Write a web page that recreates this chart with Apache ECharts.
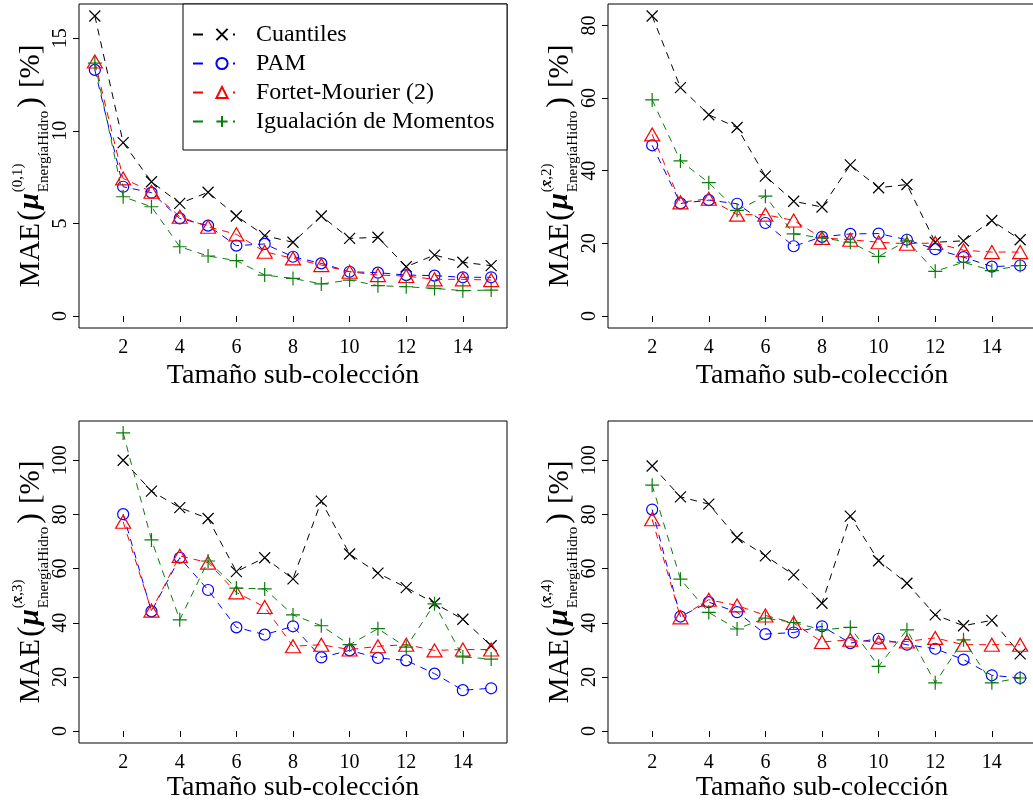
<!DOCTYPE html>
<html>
<head>
<meta charset="utf-8">
<title>MAE vs tamaño de sub-colección</title>
<script src="https://cdn.jsdelivr.net/npm/echarts@6.0.0/dist/echarts.min.js"></script>
<style>
  html, body { margin: 0; padding: 0; background: #fff; }
  #chart { width: 1033px; height: 806px; }
</style>
</head>
<body>
<div id="chart"></div>
<script>
// tamaños de sub-colección (eje x)
const sizesAll = [1, 2, 3, 4, 5, 6, 7, 8, 9, 10, 11, 12, 13, 14, 15]
const sizesFrom2 = [2, 3, 4, 5, 6, 7, 8, 9, 10, 11, 12, 13, 14, 15]
const xTicks = [2, 4, 6, 8, 10, 12, 14]

const methodNames = ['Cuantiles', 'PAM', 'Fortet-Mourier (2)', 'Igualación de Momentos']

// panel (0,1)
const cuantiles01 = [16.2, 9.36, 7.25, 6.08, 6.68, 5.40, 4.34, 3.98, 5.40, 4.19, 4.25, 2.66, 3.29, 2.90, 2.72]
const pam01 = [13.29, 6.98, 6.66, 5.27, 4.88, 3.80, 3.89, 3.20, 2.84, 2.39, 2.34, 2.21, 2.18, 2.09, 2.09]
const fortet01 = [13.74, 7.43, 6.71, 5.36, 4.82, 4.41, 3.47, 3.11, 2.75, 2.39, 2.21, 2.16, 1.98, 1.98, 1.94]
const momentos01 = [13.65, 6.44, 5.90, 3.74, 3.24, 2.99, 2.21, 2.03, 1.73, 1.94, 1.64, 1.58, 1.49, 1.37, 1.40]

// panel (x,2)
const cuantiles2 = [82.6, 62.9, 55.4, 51.9, 38.5, 31.6, 30.0, 41.6, 35.3, 36.2, 20.3, 20.7, 26.3, 21.0]
const pam2 = [47.0, 31.0, 31.9, 30.9, 25.6, 19.2, 21.8, 22.6, 22.7, 21.0, 18.4, 16.2, 13.6, 13.9]
const fortet2 = [50.0, 31.3, 32.3, 27.9, 27.9, 26.3, 21.5, 21.0, 20.3, 19.9, 20.1, 18.1, 17.6, 17.6]
const momentos2 = [59.5, 42.7, 36.7, 29.1, 33.0, 22.6, 21.5, 20.3, 16.4, 20.7, 12.3, 14.8, 12.5, 13.9]

// panel (x,3)
const cuantiles3 = [100.0, 88.6, 82.5, 78.5, 58.9, 64.0, 56.2, 84.9, 65.4, 58.3, 53.0, 47.2, 41.3, 31.5]
const pam3 = [80.1, 44.2, 64.0, 52.1, 38.3, 35.6, 38.7, 27.2, 29.8, 27.0, 26.1, 21.2, 15.1, 15.8]
const fortet3 = [77.3, 44.5, 64.7, 62.2, 51.2, 45.8, 31.3, 31.9, 30.1, 31.3, 31.9, 29.8, 30.1, 30.1]
const momentos3 = [110.1, 70.6, 41.1, 62.8, 52.8, 52.5, 42.9, 38.9, 31.9, 37.8, 31.0, 47.0, 27.4, 26.6]

// panel (x,4)
const cuantiles4 = [97.9, 86.5, 83.8, 71.5, 64.7, 57.7, 47.2, 79.4, 62.9, 54.6, 42.9, 38.9, 40.9, 28.5]
const pam4 = [81.8, 42.3, 47.6, 43.9, 35.8, 36.4, 38.7, 32.5, 34.1, 31.9, 30.4, 26.4, 20.6, 19.6]
const fortet4 = [78.2, 42.0, 48.5, 46.4, 42.7, 39.9, 32.9, 33.7, 32.8, 33.1, 34.4, 31.9, 31.9, 31.9]
const momentos4 = [90.8, 56.1, 43.8, 37.7, 41.7, 40.1, 37.4, 38.3, 23.9, 37.4, 17.8, 33.7, 17.8, 19.6]

// ticks y límites (R: ylim + 4%)
const yTicks01 = [0, 5, 10, 15]
const yTicks2 = [0, 20, 40, 60, 80]
const yTicks34 = [0, 20, 40, 60, 80, 100]
const yLim01 = [0, 16.2]
const yLim2 = [0, 82.6]
const yLim34 = [0, 110.1]

const SERIF = "'Liberation Serif', 'DejaVu Serif', serif"
const CROSS = 'path://M0,0L10,10M10,0L0,10'
const PLUS = 'path://M5,0L5,10M0,5L10,5'

// estilo de cada método
const methodStyles = [
  { color: '#000000', symbol: CROSS, size: 11 },
  { color: '#0000FF', symbol: 'circle', size: 11 },
  { color: '#FF0000', symbol: 'triangle', size: [15, 13] },
  { color: '#0A7D0A', symbol: PLUS, size: 14 }
]

const panels = [
  { xs: sizesAll, values: [cuantiles01, pam01, fortet01, momentos01], yTicks: yTicks01, yLim: yLim01, sup: [['(0,1)', false]],
    box: { left: 79, top: 4, width: 428, height: 324 }, nameGap: 34 },
  { xs: sizesFrom2, values: [cuantiles2, pam2, fortet2, momentos2], yTicks: yTicks2, yLim: yLim2, sup: [['(', false], ['x\u0304', true], [',2)', false]],
    box: { left: 608, top: 4, width: 428, height: 324 }, nameGap: 34 },
  { xs: sizesFrom2, values: [cuantiles3, pam3, fortet3, momentos3], yTicks: yTicks34, yLim: yLim34, sup: [['(', false], ['x\u0304', true], [',3)', false]],
    box: { left: 79, top: 421, width: 428, height: 322 }, nameGap: 31 },
  { xs: sizesFrom2, values: [cuantiles4, pam4, fortet4, momentos4], yTicks: yTicks34, yLim: yLim34, sup: [['(', false], ['x\u0304', true], [',4)', false]],
    box: { left: 608, top: 421, width: 428, height: 322 }, nameGap: 31 }
]

const measureCtx = document.createElement('canvas').getContext('2d')
function textWidth (str, size, bold) {
  measureCtx.font = `${bold ? 'italic bold' : 'normal'} ${size}px ${SERIF}`
  return measureCtx.measureText(str).width
}

function textEl (text, x, y, size, bold) {
  return {
    type: 'text',
    x,
    y,
    style: {
      text,
      fontFamily: SERIF,
      fontSize: size,
      fontWeight: bold ? 'bold' : 'normal',
      fontStyle: bold ? 'italic' : 'normal',
      fill: '#000',
      align: 'left',
      verticalAlign: 'middle'
    }
  }
}

// título del eje y: MAE(mu^{sup}_{EnergíaHidro}) [%], girado 90 grados
function yTitle (box, supParts) {
  const MAIN = 29
  const BIG = 32
  const SMALL = 15
  const wMAE = textWidth('MAE', MAIN)
  const wOpen = textWidth('(', BIG)
  const wMu = textWidth('\u03bc', MAIN, true)
  const wSup = supParts.reduce((s, p) => s + textWidth(p[0], SMALL, p[1]), 0)
  const wSub = textWidth('EnergíaHidro', SMALL)
  const wClose = textWidth(')', BIG)
  const wPct = textWidth('[%]', MAIN)
  const xOpen = wMAE + 2
  const xMu = xOpen + wOpen + 1
  const xScript = xMu + wMu + 1
  const xClose = xScript + Math.max(wSup, wSub) + 3
  const xPct = xClose + wClose + 9
  const total = xPct + wPct

  const rich = { n: { fontFamily: SERIF, fontSize: SMALL }, b: { fontFamily: SERIF, fontSize: SMALL, fontWeight: 'bold', fontStyle: 'italic' } }
  const supText = supParts.map(p => `{${p[1] ? 'b' : 'n'}|${p[0]}}`).join('')

  return {
    type: 'group',
    x: box.left - 48,
    y: box.top + box.height / 2 + total / 2,
    rotation: Math.PI / 2,
    children: [
      textEl('MAE', 0, 0, MAIN),
      textEl('(', xOpen, 0, BIG),
      textEl('\u03bc', xMu, 0, MAIN, true),
      { type: 'text', x: xScript, y: -13, style: { text: supText, rich, fill: '#000', align: 'left', verticalAlign: 'middle' } },
      textEl('EnergíaHidro', xScript, 13, SMALL),
      textEl(')', xClose, 0, BIG),
      textEl('[%]', xPct, 0, MAIN)
    ]
  }
}

const grid = []
const xAxis = []
const yAxis = []
const series = []
const graphicElements = []

panels.forEach((p, i) => {
  grid.push({ ...p.box, show: true, borderColor: '#000', borderWidth: 1, containLabel: false, outerBoundsMode: 'none' })
  xAxis.push({
    type: 'value',
    gridIndex: i,
    min: 0.44,
    max: 15.56,
    name: 'Tamaño sub-colección',
    nameLocation: 'middle',
    nameGap: p.nameGap,
    nameTextStyle: { fontFamily: SERIF, fontSize: 28, color: '#000' },
    axisLine: { show: false },
    axisTick: { show: true, length: 6, lineStyle: { color: '#000' }, customValues: xTicks },
    axisLabel: { fontFamily: SERIF, fontSize: 20, color: '#000', margin: 10, customValues: xTicks },
    splitLine: { show: false }
  })
  const ext = (p.yLim[1] - p.yLim[0]) * 0.04
  yAxis.push({
    type: 'value',
    gridIndex: i,
    min: p.yLim[0] - ext,
    max: p.yLim[1] + ext,
    axisLine: { show: false },
    axisTick: { show: true, length: 6, lineStyle: { color: '#000' }, customValues: p.yTicks },
    axisLabel: { fontFamily: SERIF, fontSize: 20, color: '#000', margin: 8, rotate: 90, customValues: p.yTicks },
    splitLine: { show: false }
  })
  p.values.forEach((vals, m) => {
    const st = methodStyles[m]
    series.push({
      type: 'line',
      name: methodNames[m],
      xAxisIndex: i,
      yAxisIndex: i,
      data: p.xs.map((x, k) => [x, vals[k]]),
      symbol: st.symbol,
      symbolSize: st.size,
      showSymbol: true,
      showAllSymbol: true,
      lineStyle: { color: st.color, width: 1, type: [7, 6] },
      itemStyle: { color: 'rgba(0,0,0,0)', borderColor: st.color, borderWidth: 1.2 },
      emphasis: { disabled: true },
      z: 2 + m * 0.1
    })
  })
  graphicElements.push(yTitle(p.box, p.sup))
})

// caja de la leyenda
graphicElements.push({
  type: 'rect',
  z: 3,
  shape: { x: 183, y: 4, width: 324, height: 146 },
  style: { fill: '#fff', stroke: '#000', lineWidth: 1 }
})

const chart = echarts.init(document.getElementById('chart'), null, { renderer: 'canvas' })
chart.setOption({
  animation: false,
  backgroundColor: '#fff',
  grid,
  xAxis,
  yAxis,
  series,
  legend: {
    data: methodNames,
    orient: 'vertical',
    left: 192,
    top: 20,
    padding: 0,
    itemWidth: 58,
    itemHeight: 14,
    itemGap: 0,
    selectedMode: false,
    lineStyle: { type: [10, 30, 2, 30] },
    textStyle: { fontFamily: SERIF, fontSize: 24, color: '#000', lineHeight: 29 },
    z: 5
  },
  graphic: { elements: graphicElements }
})
</script>
</body>
</html>
